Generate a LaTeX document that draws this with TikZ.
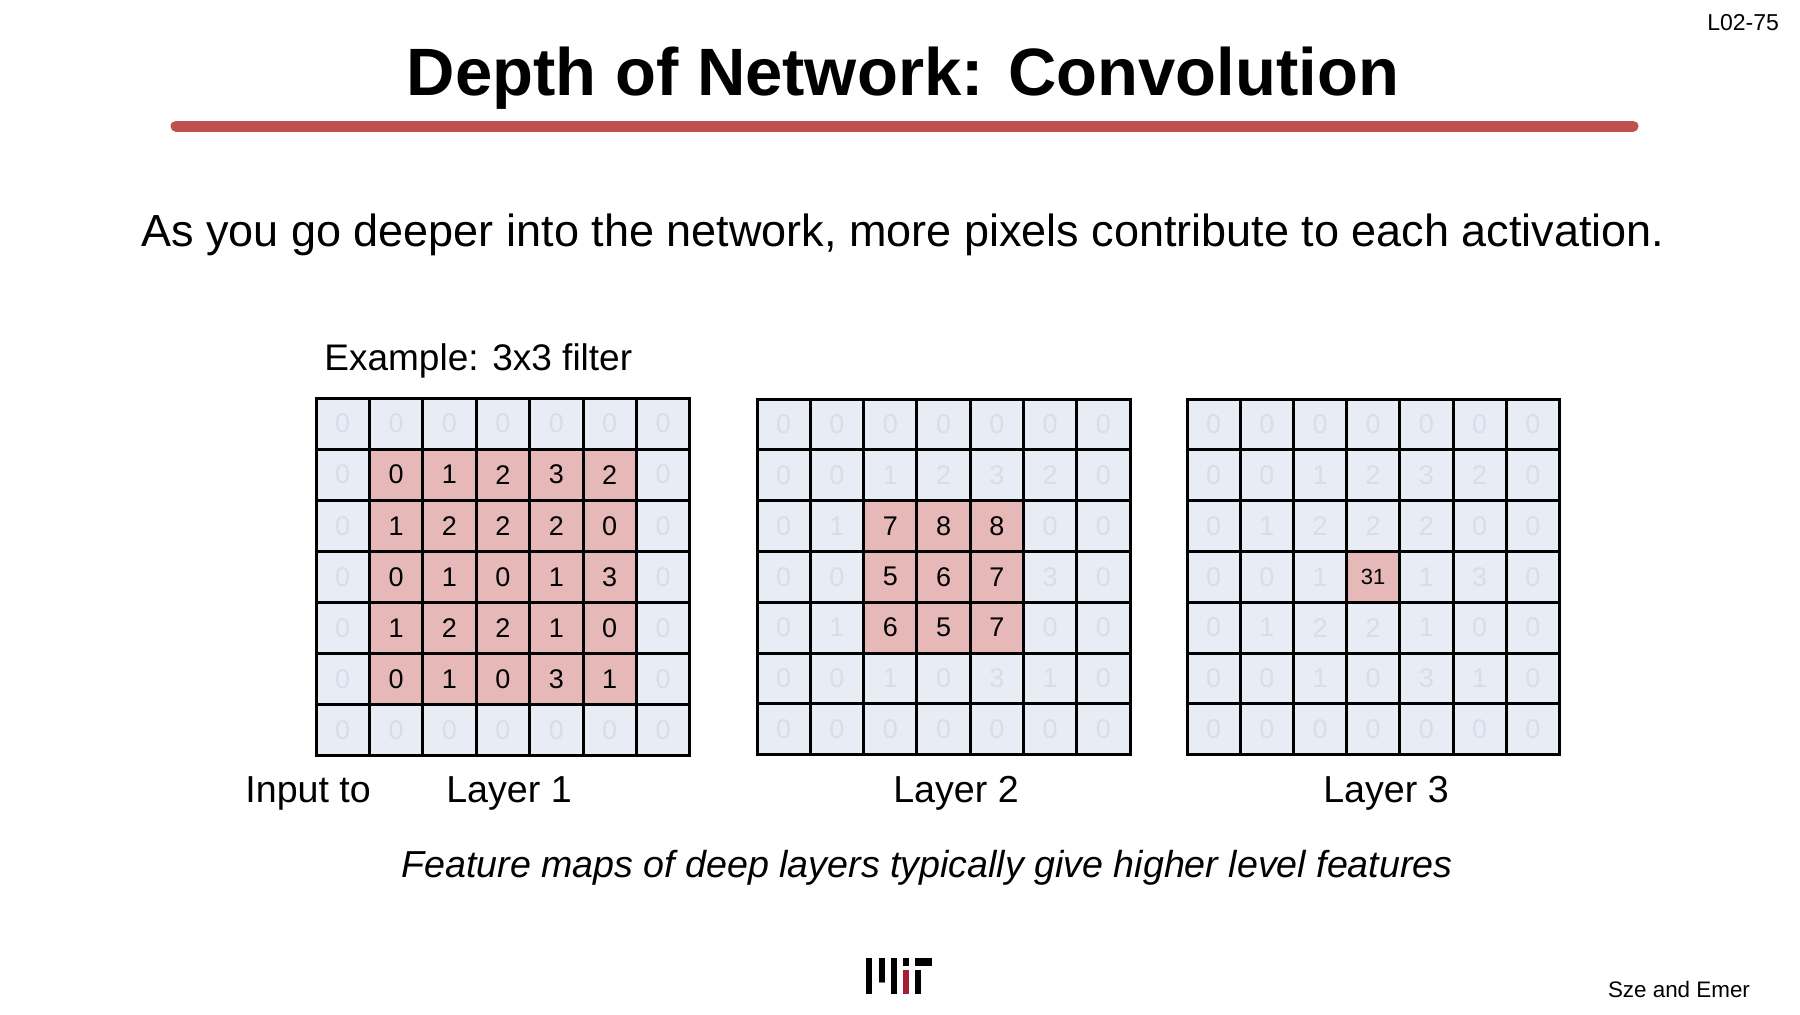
\documentclass[tikz,border=0pt]{standalone}
\usepackage{fontspec}
\setmainfont{Liberation Sans}
\definecolor{cellbg}{HTML}{E8ECF4}
\definecolor{faint}{HTML}{D6DEEA}
\definecolor{hl}{HTML}{E6B9B8}
\definecolor{bar}{HTML}{C0504D}
\definecolor{mitred}{HTML}{A31F34}
\newcommand{\mygrid}[9]{% name, x0, y0, cw, ch, rows, lo, hi, font
  \foreach \row [count=\r from 0] in {#6} {
    \foreach \v [count=\c from 0] in \row {
      \pgfmathtruncatemacro{\hh}{(\r>=#7)&&(\r<=#8)&&(\c>=#7)&&(\c<=#8)?1:0}
      \ifnum\hh=1
        \node[cell,fill=hl,text=black,font=#9] (#1-\r-\c) at ({#2+(\c+0.5)*#4},{#3+(\r+0.5)*#5}) {\v};
      \else
        \node[cell] (#1-\r-\c) at ({#2+(\c+0.5)*#4},{#3+(\r+0.5)*#5}) {\v};
      \fi
    }
  }
  \foreach \k in {0,...,7} {
    \draw[line width=1.5pt,line cap=rect] ({#2+\k*#4},#3) -- ({#2+\k*#4},{#3+7*#5});
    \draw[line width=1.5pt,line cap=rect] (#2,{#3+\k*#5}) -- ({#2+7*#4},{#3+\k*#5});
  }
}
\begin{document}
\begin{tikzpicture}[x=0.5pt,y=-0.5pt,
  cell/.style={minimum width=27.5pt,minimum height=26.5pt,inner sep=0pt,fill=cellbg,text=faint,font=\fontsize{13.5}{13.5}\selectfont},
  lbl/.style={font=\fontsize{18.8}{21}\selectfont,inner sep=0pt}]
\useasboundingbox (0,0) rectangle (1800,1014);
\node[font=\fontsize{33.5}{36}\selectfont\bfseries] (title) at (903,78) {Depth of Network: Convolution};
\draw[bar,line width=5.5pt,line cap=round] (176,126) -- (1633,126);
\node[font=\fontsize{11.5}{12}\selectfont,anchor=north east] (pg) at (1786,7) {L02-75};
\node[font=\fontsize{22.5}{25}\selectfont] (sub) at (903,235) {As you go deeper into the network, more pixels contribute to each activation.};
\node[lbl,font=\fontsize{18.5}{21}\selectfont,anchor=west] (ex) at (324,361) {Example: 3x3 filter};
\mygrid{g1}{316}{398}{53.4}{51.1}{{0,0,0,0,0,0,0},{0,0,1,2,3,2,0},{0,1,2,2,2,0,0},{0,0,1,0,1,3,0},{0,1,2,2,1,0,0},{0,0,1,0,3,1,0},{0,0,0,0,0,0,0}}{1}{5}{\fontsize{13.5}{13.5}\selectfont}
\mygrid{g2}{757}{399}{53.3}{50.8}{{0,0,0,0,0,0,0},{0,0,1,2,3,2,0},{0,1,7,8,8,0,0},{0,0,5,6,7,3,0},{0,1,6,5,7,0,0},{0,0,1,0,3,1,0},{0,0,0,0,0,0,0}}{2}{4}{\fontsize{13.5}{13.5}\selectfont}
\mygrid{g3}{1187}{399}{53.2}{50.8}{{0,0,0,0,0,0,0},{0,0,1,2,3,2,0},{0,1,2,2,2,0,0},{0,0,1,31,1,3,0},{0,1,2,2,1,0,0},{0,0,1,0,3,1,0},{0,0,0,0,0,0,0}}{3}{3}{\fontsize{11}{11}\selectfont}
\node[lbl,anchor=west] (inp) at (245,793) {Input to};
\node[lbl] (l1) at (509,793) {Layer 1};
\node[lbl] (l2) at (956,793) {Layer 2};
\node[lbl] (l3) at (1386,793) {Layer 3};
\node[lbl,font=\fontsize{18.8}{21}\selectfont\itshape] (feat) at (927,868) {Feature maps of deep layers typically give higher level features};
\node[font=\fontsize{11.2}{12}\selectfont,anchor=east] (auth) at (1757,989) {Sze and Emer};
% MIT logo
\fill (866,958) rectangle (872,994);
\fill (879,958) rectangle (885,982);
\fill[gray] (879,982) rectangle (885,983);
\fill (891,958) rectangle (897,994);
\fill (903,958) rectangle (909,966);
\fill[mitred] (903,970) rectangle (909,994);
\fill (915,970) rectangle (921,994);
\fill (915,958) rectangle (932,966);
\end{tikzpicture}
\end{document}
